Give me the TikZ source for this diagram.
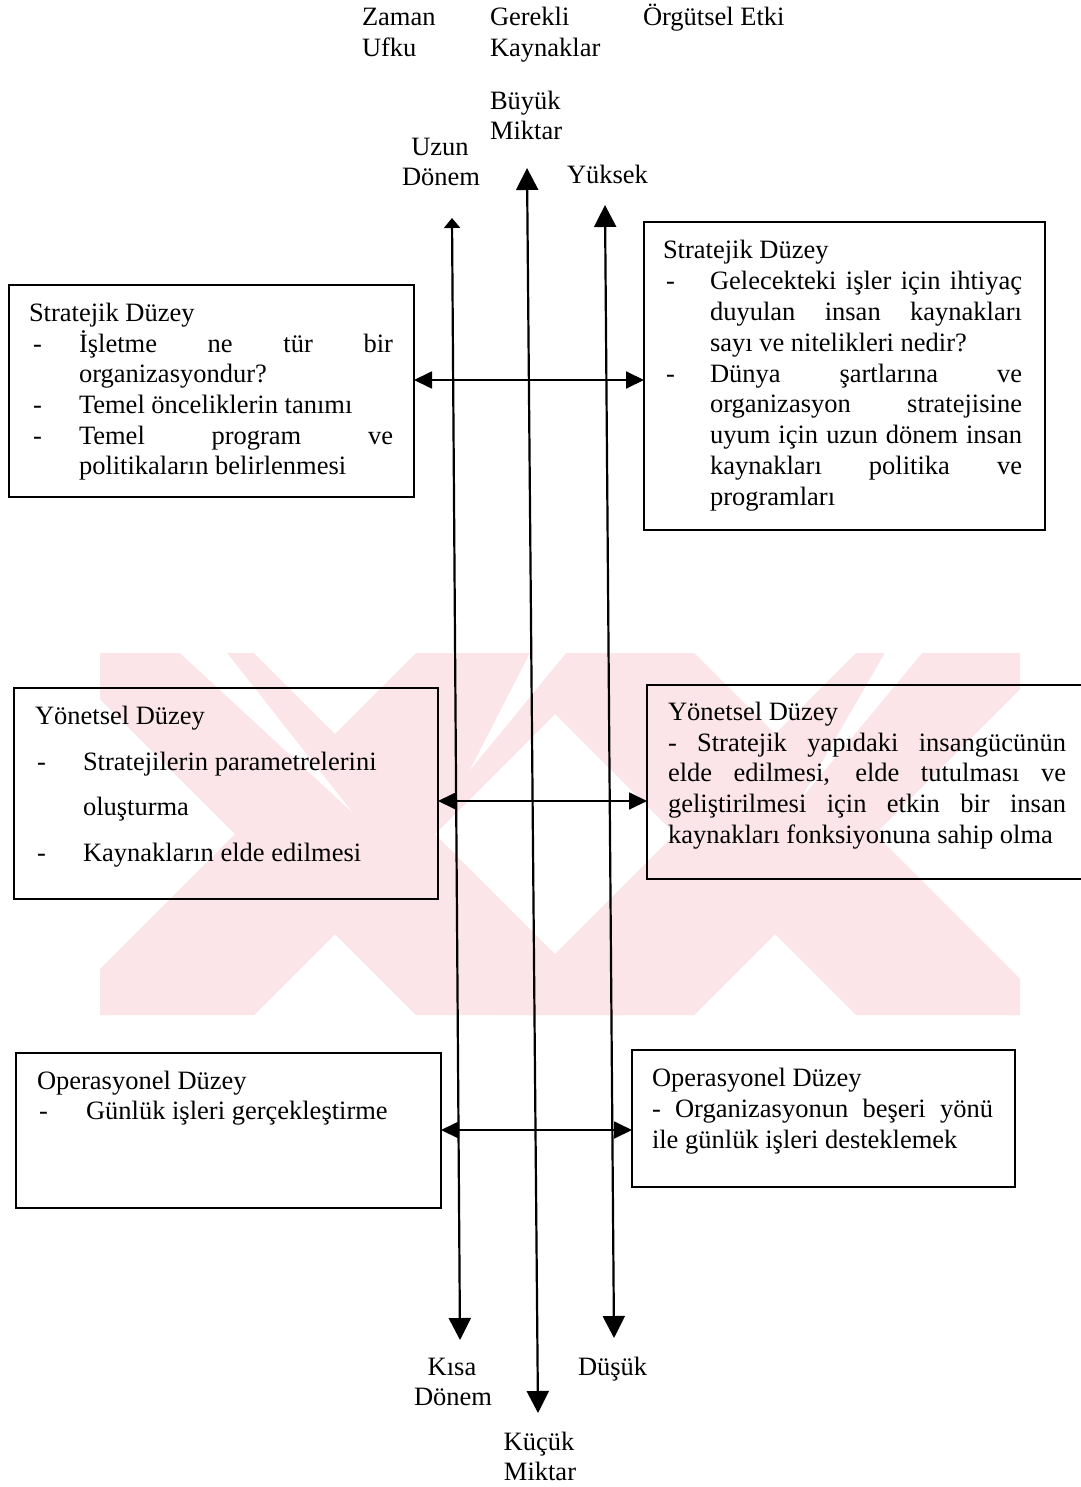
\documentclass[tikz,border=0pt]{standalone}
\usepackage{fontspec}
\setmainfont{Liberation Serif}
\usetikzlibrary{arrows.meta,calc}
\definecolor{wm}{RGB}{252,229,233}
\newcommand{\jline}[2]{\makebox[#1][s]{#2}}

\begin{document}
\begin{tikzpicture}[x=1pt,y=-1pt,
  every node/.style={inner sep=0pt, outer sep=0pt, font=\fontsize{26.5}{31}\selectfont},
  lbl/.style={anchor=base west},
  clbl/.style={anchor=base},
  levelbox/.style={draw, line width=1.8pt, rectangle},
  axisline/.style={line width=2.2pt,
    {Triangle[length=22pt,width=22pt]}-{Triangle[length=22pt,width=22pt]}},
  link/.style={line width=1.8pt,
    {Triangle[length=18pt,width=17pt]}-{Triangle[length=18pt,width=17pt]}}
]
\useasboundingbox (0,0) rectangle (1080,1487);
\fill[white] (0,0) rectangle (1080,1487);

% faint background mark: two crossed bands with light stripes
\begin{scope}
  \clip (100,653) rectangle (1020,1015);
  \fill[wm] (54,653) -- (254,653) -- (616,1015) -- (416,1015) -- cycle;
  \fill[wm] (416,653) -- (616,653) -- (254,1015) -- (54,1015) -- cycle;
  \fill[wm] (494,653) -- (694,653) -- (1056,1015) -- (856,1015) -- cycle;
  \fill[wm] (856,653) -- (1056,653) -- (694,1015) -- (494,1015) -- cycle;
  \fill[white] (180,653) -- (227,653) -- (352,812) -- cycle;
  \fill[white] (530,653) -- (566,653) -- (470,770) -- cycle;
  \fill[white] (885,653) -- (922,653) -- (800,800) -- cycle;
\end{scope}

% axis titles
\node[lbl] (zaman) at (362,26) {Zaman};
\node[lbl] (ufku) at (362,57) {Ufku};
\node[lbl] (gerekli) at (490,26) {Gerekli};
\node[lbl] (kaynaklar) at (490,57) {Kaynaklar};
\node[lbl] (orgutsel) at (643,26) {Örgütsel Etki};
\node[lbl] (buyuk) at (490,110) {Büyük};
\node[lbl] (miktar1) at (490,140) {Miktar};
\node[clbl] (uzun) at (440,156) {Uzun};
\node[clbl] (donem1) at (441,186) {Dönem};
\node[lbl] (yuksek) at (567,184) {Yüksek};
\node[clbl] (kisa) at (452,1375) {Kısa};
\node[clbl] (donem2) at (453,1405) {Dönem};
\node[lbl] (dusuk) at (578,1375) {Düşük};
\node[clbl] (kucuk) at (539,1450) {Küçük};
\node[clbl] (miktar2) at (540,1480) {Miktar};

% axes
\coordinate (zT) at (452,218);
\coordinate (zB) at (460,1340);
\coordinate (kT) at (527,168);
\coordinate (kB) at (538,1413);
\coordinate (oT) at (605,205);
\coordinate (oB) at (614,1338);
\draw[line width=2.2pt,
  {Triangle[length=10pt,width=16pt]}-{Triangle[length=22pt,width=22pt]}] (zT) -- (zB);
\draw[axisline] (kT) -- (kB);
\draw[axisline] (oT) -- (oB);

% level boxes
\node[levelbox, minimum width=405pt, minimum height=212pt] (L1) at (211.5,391) {};
\node[levelbox, minimum width=401pt, minimum height=308pt] (R1) at (844.5,376) {};
\node[levelbox, minimum width=424pt, minimum height=211pt] (L2) at (226,793.5) {};
\node[levelbox, minimum width=443pt, minimum height=194pt] (R2) at (868.5,782) {};
\node[levelbox, minimum width=425pt, minimum height=155pt] (L3) at (228.5,1130.5) {};
\node[levelbox, minimum width=383pt, minimum height=137pt] (R3) at (823.5,1118.5) {};

% links between the levels
\coordinate (h1) at (0,380);
\coordinate (h2) at (0,801);
\coordinate (h3) at (0,1130);
\draw[link] (L1.east |- h1) -- (R1.west |- h1);
\draw[link] (L2.east |- h2) -- (R2.west |- h2);
\draw[link] (L3.east |- h3) -- (R3.west |- h3);

% strategic level, left
\node[lbl] (l1t) at (29,321) {Stratejik Düzey};
\node[lbl] (l1d1) at (33,352) {-};
\node[lbl] (l1a) at (79,352) {\jline{314pt}{İşletme ne tür bir}};
\node[lbl] (l1b) at (79,382) {organizasyondur?};
\node[lbl] (l1d2) at (33,413) {-};
\node[lbl] (l1c) at (79,413) {Temel önceliklerin tanımı};
\node[lbl] (l1d3) at (33,444) {-};
\node[lbl] (l1e) at (79,444) {\jline{314pt}{Temel program ve}};
\node[lbl] (l1f) at (79,474) {politikaların belirlenmesi};

% strategic level, right
\node[lbl] (r1t) at (663,259) {Stratejik Düzey};
\node[lbl] (r1d1) at (666,290) {-};
\node[lbl] (r1a) at (710,290) {\jline{312pt}{Gelecekteki işler için ihtiyaç}};
\node[lbl] (r1b) at (710,320) {\jline{312pt}{duyulan insan kaynakları}};
\node[lbl] (r1c) at (710,351) {sayı ve nitelikleri nedir?};
\node[lbl] (r1d2) at (666,382) {-};
\node[lbl] (r1e) at (710,382) {\jline{312pt}{Dünya şartlarına ve}};
\node[lbl] (r1f) at (710,412) {\jline{312pt}{organizasyon stratejisine}};
\node[lbl] (r1g) at (710,443) {\jline{312pt}{uyum için uzun dönem insan}};
\node[lbl] (r1h) at (710,474) {\jline{312pt}{kaynakları politika ve}};
\node[lbl] (r1i) at (710,505) {programları};

% managerial level, left
\node[lbl] (l2t) at (35,724) {Yönetsel Düzey};
\node[lbl] (l2d1) at (37,770) {-};
\node[lbl] (l2a) at (83,770) {Stratejilerin parametrelerini};
\node[lbl] (l2b) at (83,815) {oluşturma};
\node[lbl] (l2d2) at (37,861) {-};
\node[lbl] (l2c) at (83,861) {Kaynakların elde edilmesi};

% managerial level, right
\node[lbl] (r2t) at (668,720) {Yönetsel Düzey};
\node[lbl] (r2a) at (668,751) {\jline{398pt}{- Stratejik yapıdaki insangücünün}};
\node[lbl] (r2b) at (668,781) {\jline{398pt}{elde edilmesi, elde tutulması ve}};
\node[lbl] (r2c) at (668,812) {\jline{398pt}{geliştirilmesi için etkin bir insan}};
\node[lbl] (r2d) at (668,843) {kaynakları fonksiyonuna sahip olma};

% operational level, left
\node[lbl] (l3t) at (37,1089) {Operasyonel Düzey};
\node[lbl] (l3d1) at (39,1119) {-};
\node[lbl] (l3a) at (86,1119) {Günlük işleri gerçekleştirme};

% operational level, right
\node[lbl] (r3t) at (652,1086) {Operasyonel Düzey};
\node[lbl] (r3a) at (652,1117) {\jline{341pt}{- Organizasyonun beşeri yönü}};
\node[lbl] (r3b) at (652,1148) {ile günlük işleri desteklemek};
\end{tikzpicture}
\end{document}
